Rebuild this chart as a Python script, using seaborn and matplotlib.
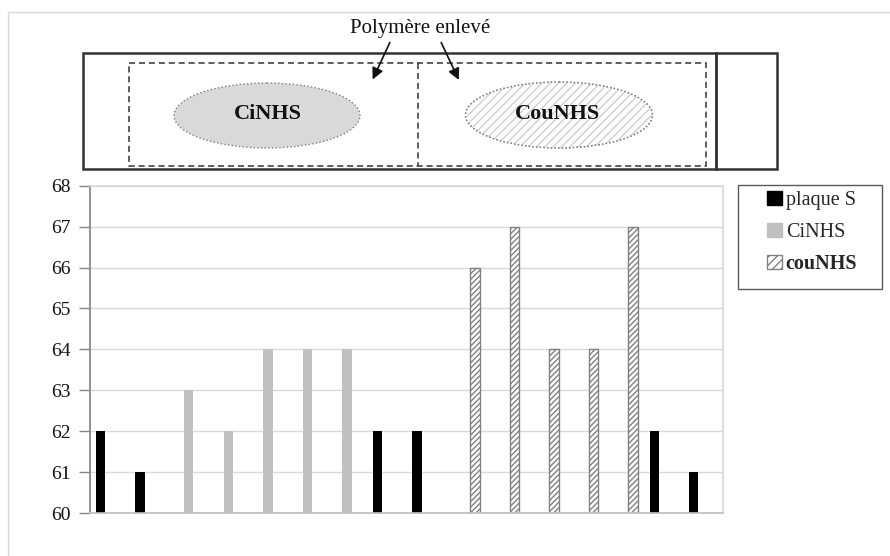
import numpy as np
import pandas as pd
import seaborn as sns
import matplotlib.pyplot as plt
from matplotlib.patches import Rectangle, Ellipse, Patch

# data (16 samples, one series per sample)
categories = [str(i) for i in range(1, 17)]
series = ["plaque S", "CiNHS", "couNHS"]
plaque_s = [62, 61, None, None, None, None, None, 62, 62, None, None, None, None, None, 62, 61]
cinhs = [None, None, 63, 62, 64, 64, 64, None, None, None, None, None, None, None, None, None]
counhs = [None, None, None, None, None, None, None, None, None, 66, 67, 64, 64, 67, None, None]

rows = []
for name, vals in zip(series, [plaque_s, cinhs, counhs]):
    for c, v in zip(categories, vals):
        if v is not None:
            rows.append({"cat": c, "serie": name, "val": v})
df = pd.DataFrame(rows)

sns.set_theme(style="white")
plt.rcParams["font.family"] = ["Liberation Serif", "DejaVu Serif"]
plt.rcParams["hatch.linewidth"] = 1.0
plt.rcParams["hatch.color"] = "#707070"

W, H = 890, 556
fig = plt.figure(figsize=(W / 100, H / 100), dpi=100)

# overlay in pixel coords for the schematic on top
ov = fig.add_axes([0, 0, 1, 1])
ov.set_xlim(0, W)
ov.set_ylim(H, 0)
ov.axis("off")
ov.patch.set_alpha(0)

ov.add_patch(Rectangle((8, 12), 900, 560, fill=False, ec="#D9D9D9", lw=1))
ov.add_patch(Rectangle((83, 52.5), 633, 116.5, fill=False, ec="#333333", lw=1.8))
ov.add_patch(Rectangle((716, 52.5), 61, 116.5, fill=False, ec="#333333", lw=1.8))
ov.add_patch(Rectangle((128.5, 62.5), 577.5, 103.5, fill=False, ec="#333333", lw=1.1, ls=(0, (4, 2.5))))
ov.plot([417.5, 417.5], [62.5, 166], color="#333333", lw=1.1, ls=(0, (4, 2.5)))
ov.add_patch(Ellipse((267, 115.5), 186, 65, fc="#D9D9D9", ec="#808080", lw=1, ls=":"))
ov.add_patch(Ellipse((559, 115), 187, 66, fc="white", ec="#808080", lw=1, ls=":"))
ov.add_patch(Ellipse((559, 115), 187, 66, fc="none", ec="#D0D0D0", lw=0, hatch="////"))
ov.add_patch(Ellipse((559, 115), 187, 66, fc="none", ec="#808080", lw=1, ls=":"))
ov.text(268, 114, "CiNHS", ha="center", va="center", fontsize=16, fontweight="bold", color="#111111")
ov.text(558, 114, "CouNHS", ha="center", va="center", fontsize=16, fontweight="bold", color="#111111")
ov.text(420, 28, "Polymère enlevé", ha="center", va="center", fontsize=15, color="#111111")
ov.annotate("", xy=(371.5, 82), xytext=(391, 40),
            arrowprops=dict(arrowstyle="-|>", color="#111111", lw=1.2, mutation_scale=17))
ov.annotate("", xy=(460, 82.5), xytext=(440, 40),
            arrowprops=dict(arrowstyle="-|>", color="#111111", lw=1.2, mutation_scale=17))

# chart
ax = fig.add_axes([90 / W, 1 - 513 / H, (722.7 - 90) / W, (513 - 185.7) / H])
palette = {"plaque S": "black", "CiNHS": "#C0C0C0", "couNHS": "white"}
sns.barplot(data=df, x="cat", y="val", hue="serie", order=categories, hue_order=series,
            palette=palette, dodge=True, width=0.7, saturation=1, ax=ax, legend=False)

for i, cont in enumerate(ax.containers):
    for p in cont.patches:
        if series[i] == "couNHS":
            p.set_facecolor("white")
            p.set_edgecolor("#808080")
            p.set_hatch("//////")
            p.set_linewidth(1.0)
        else:
            p.set_linewidth(0)

ax.set_ylim(60, 68)
ax.set_yticks(range(60, 69))
ax.set_xticks([])
ax.set_xlabel("")
ax.set_ylabel("")
ax.grid(axis="y", color="#D9D9D9", lw=1)
ax.set_axisbelow(True)
for s in ["top", "right"]:
    ax.spines[s].set_color("#D9D9D9")
ax.spines["bottom"].set_color("#BFBFBF")
ax.spines["left"].set_color("#868686")
ax.tick_params(axis="y", labelsize=14, length=8, width=1, color="#868686", pad=6, left=True,
               labelcolor="#111111")

# legend
ov.add_patch(Rectangle((737.7, 185), 144, 104, fill=False, ec="#595959", lw=1))
handles = [Patch(fc="black", ec="black"),
           Patch(fc="#C0C0C0", ec="#C0C0C0"),
           Patch(fc="white", ec="#808080", hatch="////")]
leg = fig.legend(handles, series, loc="upper left", bbox_to_anchor=(766.7 / W, 1 - 191 / H),
                 frameon=False, borderaxespad=0, borderpad=0, fontsize=14.5,
                 labelspacing=0.62, handlelength=0.75, handleheight=0.7, handletextpad=0.2)
leg.get_texts()[2].set_fontweight("bold")

fig.savefig("out.png", dpi=100)
